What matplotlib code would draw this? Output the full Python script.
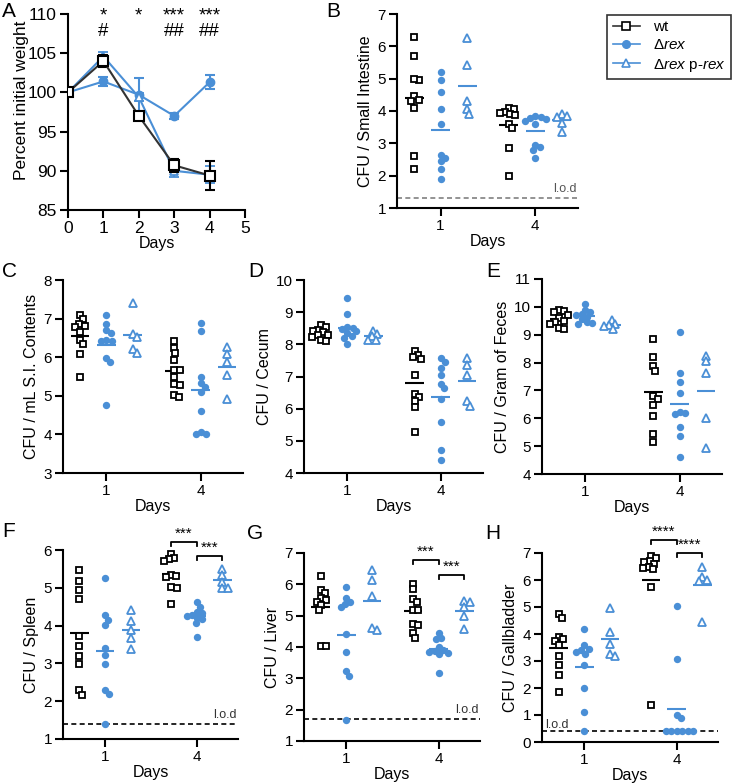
import numpy as np
import matplotlib
matplotlib.use("Agg")
import matplotlib.pyplot as plt
from matplotlib.lines import Line2D

plt.rcParams['font.family'] = ['Liberation Sans', 'DejaVu Sans']
plt.rcParams['mathtext.fontset'] = 'custom'
plt.rcParams['mathtext.rm'] = 'Liberation Sans'
plt.rcParams['mathtext.it'] = 'Liberation Sans:italic'

BLUE = '#4a8fd6'
W, H = 744, 784

# ---- Panel A: weight over time ----
days_a = [0, 1, 2, 3, 4]
wt_weight = [100, 104.0, 97.0, 90.7, 89.4]
wt_weight_err = [0, 0.8, 0.3, 0.8, 1.8]
rex_weight = [100, 101.4, 99.7, 97.0, 101.3]
rex_weight_err = [0, 0.6, 2.1, 0.4, 0.9]
prex_weight = [100, 104.6, 99.4, 90.0, 89.5]
prex_weight_err = [0, 0.6, 0.5, 0.8, 1.1]
star_days = [1, 2, 3, 4]
star_labels = ['*', '*', '***', '***']
hash_labels = ['#', '', '##', '##']

# ---- CFU panels: [day 1, day 4] per strain (log10 values) ----
day_labels = ['1', '4']

si_wt = [[6.3, 5.7, 4.95, 5.0, 4.45, 4.35, 4.3, 4.1, 2.6, 2.2],
         [4.1, 4.05, 3.98, 3.95, 3.9, 3.88, 3.6, 3.47, 2.87, 2.0]]
si_rex = [[5.2, 4.95, 4.6, 4.05, 3.6, 2.65, 2.45, 2.55, 2.2, 1.9],
          [3.85, 3.82, 3.78, 3.75, 3.7, 3.6, 2.95, 2.88, 2.8, 2.55]]
si_prex = [[6.25, 5.43, 4.3, 4.06, 3.9], [3.92, 3.85, 3.82, 3.62, 3.35]]

sic_wt = [[7.1, 6.98, 6.87, 6.82, 6.78, 6.65, 6.45, 6.33, 6.08, 5.5],
          [6.43, 6.25, 6.11, 5.92, 5.66, 5.66, 5.5, 5.3, 5.27, 5.03, 4.96]]
sic_rex = [[7.1, 6.85, 6.7, 6.63, 6.45, 6.43, 6.42, 5.99, 5.88, 4.76],
           [6.89, 6.69, 5.49, 5.32, 5.23, 5.1, 4.6, 4.06, 4.0, 4.0]]
sic_prex = [[7.4, 6.6, 6.52, 6.2, 6.1], [6.27, 6.07, 5.88, 5.55, 4.93]]

cec_wt = [[8.6, 8.55, 8.45, 8.42, 8.38, 8.3, 8.28, 8.22, 8.12, 8.1],
          [7.8, 7.66, 7.6, 7.53, 7.05, 6.47, 6.37, 6.25, 6.06, 5.27]]
cec_rex = [[9.45, 8.93, 8.55, 8.52, 8.48, 8.4, 8.35, 8.25, 8.2, 8.02],
           [7.56, 7.45, 7.25, 7.04, 6.76, 6.63, 6.29, 5.58, 4.72, 4.39]]
cec_prex = [[8.43, 8.31, 8.25, 8.15, 8.12], [7.58, 7.35, 7.04, 6.24, 6.09]]

fec_wt = [[9.9, 9.85, 9.8, 9.72, 9.6, 9.5, 9.45, 9.38, 9.25, 9.2],
          [8.85, 8.2, 7.88, 7.7, 6.8, 6.7, 6.48, 6.08, 5.44, 5.16]]
fec_rex = [[10.1, 9.9, 9.8, 9.75, 9.7, 9.65, 9.55, 9.45, 9.42, 9.4],
           [9.09, 7.62, 7.29, 6.9, 6.24, 6.18, 6.14, 5.7, 5.36, 4.62]]
fec_prex = [[9.54, 9.39, 9.36, 9.3, 9.2], [8.25, 8.04, 7.62, 6.02, 4.94]]

spl_wt = [[5.47, 5.18, 4.94, 4.7, 3.73, 3.46, 3.2, 2.99, 2.3, 2.17],
          [5.9, 5.78, 5.75, 5.7, 5.35, 5.3, 5.28, 5.02, 5.0, 4.57]]
spl_rex = [[5.25, 4.28, 4.15, 4.02, 3.4, 3.21, 2.99, 2.3, 2.19, 1.4],
           [4.62, 4.5, 4.37, 4.33, 4.28, 4.26, 4.2, 4.17, 4.06, 3.69]]
spl_prex = [[4.42, 4.11, 3.89, 3.67, 3.38], [5.49, 5.34, 5.16, 4.99, 4.99]]

liv_wt = [[6.26, 5.81, 5.72, 5.57, 5.51, 5.44, 5.33, 5.17, 4.02, 4.02],
          [6.02, 5.84, 5.54, 5.44, 5.17, 5.17, 4.72, 4.69, 4.45, 4.29]]
liv_rex = [[5.91, 5.56, 5.44, 5.38, 5.28, 4.4, 3.83, 3.23, 3.07, 1.66],
           [4.45, 4.3, 4.25, 4.0, 3.9, 3.88, 3.85, 3.82, 3.78, 3.18]]
liv_prex = [[6.45, 6.13, 5.62, 4.62, 4.53], [5.47, 5.44, 5.28, 4.98, 4.56]]

gb_wt = [[4.75, 4.6, 3.9, 3.8, 3.75, 3.6, 3.2, 2.85, 2.5, 1.86],
         [6.9, 6.8, 6.7, 6.65, 6.6, 6.5, 6.45, 6.4, 5.75, 1.37]]
gb_rex = [[4.2, 3.58, 3.45, 3.42, 3.35, 3.27, 2.85, 2.0, 1.1, 0.4],
          [5.03, 3.06, 1.0, 0.88, 0.4, 0.4, 0.4, 0.4, 0.4, 0.4]]
gb_prex = [[4.98, 4.06, 3.63, 3.27, 3.18], [6.5, 6.12, 6.0, 5.97, 4.43]]

si_lod, spl_lod, liv_lod, gb_lod = 1.3, 1.4, 1.7, 0.4


def px_axes(left, top, right, bottom):
    return fig.add_axes([left / W, 1 - bottom / H, (right - left) / W, (bottom - top) / H])


def style(ax, size=11):
    for s in ['top', 'right']:
        ax.spines[s].set_visible(False)
    for s in ['left', 'bottom']:
        ax.spines[s].set_linewidth(1.5)
    ax.tick_params(width=1.5, length=6, labelsize=size, pad=2)


def swarm(ax, vals, d=5.5):
    # simple beeswarm: offsets (in data units) so that markers don't overlap too much
    pos = ax.get_position()
    x0, x1 = ax.get_xlim()
    y0, y1 = ax.get_ylim()
    sx = pos.width * W / (x1 - x0)
    sy = pos.height * H / (y1 - y0)
    ys = np.asarray(vals, dtype=float) * sy
    offs = np.zeros(len(ys))
    placed = []
    for i in np.argsort(-ys, kind='stable'):
        cands = [0.0]
        for xp, yp in placed:
            dy = abs(ys[i] - yp)
            if dy < d:
                dx = np.sqrt(d * d - dy * dy)
                cands += [xp + dx, xp - dx]
        cands.sort(key=lambda c: (round(abs(c), 3), -c))
        for c in cands:
            if all((c - xp) ** 2 + (ys[i] - yp) ** 2 >= d * d - 1e-6 for xp, yp in placed):
                break
        offs[i] = c
        placed.append((c, ys[i]))
    return offs / sx


def bracket(ax, x1, x2, y, text):
    pos = ax.get_position()
    y0, y1 = ax.get_ylim()
    h = 4 * (y1 - y0) / (pos.height * H)
    ax.plot([x1, x1, x2, x2], [y - h, y, y, y - h], color='black', lw=1.3, clip_on=False)
    ax.text((x1 + x2) / 2, y + h * 0.3, text, ha='center', va='bottom', fontsize=11, clip_on=False)


fig = plt.figure(figsize=(W / 100, H / 100), dpi=100)

# ---------------- Panel A ----------------
axA = px_axes(68, 14, 245, 210)
axA.set_xlim(0, 5)
axA.set_ylim(85, 110)
style(axA, 12.5)
axA.set_xticks(range(6))
axA.set_yticks(range(85, 111, 5))
axA.errorbar(days_a, rex_weight, yerr=rex_weight_err, color=BLUE, lw=1.5, marker='o', ms=6,
             capsize=3.5, elinewidth=1.5, capthick=1.5, zorder=2)
axA.errorbar(days_a, prex_weight, yerr=prex_weight_err, color=BLUE, lw=1.5, marker='^', ms=6,
             mfc='white', mew=1.3, capsize=3.5, elinewidth=1.5, capthick=1.5, zorder=2)
axA.errorbar(days_a, wt_weight, yerr=wt_weight_err, color='#333333', ecolor='black', lw=1.5,
             marker='s', ms=7, mfc='white', mec='black', mew=1.5, capsize=3.5, elinewidth=1.5,
             capthick=1.5, zorder=3)
for d, s, hs in zip(star_days, star_labels, hash_labels):
    txt = s + '\n' + hs if hs else s
    axA.text(d, 110.8, txt, ha='center', va='top', fontsize=13.5, linespacing=0.85,
             clip_on=False)
axA.set_ylabel('Percent initial weight', fontsize=12.5)
axA.yaxis.set_label_coords(-0.22, 0.56)
axA.set_xlabel('Days', fontsize=11.5, labelpad=0)

# legend
handles = [
    Line2D([], [], color='#333333', lw=1.2, marker='s', ms=6, mfc='white', mec='black', mew=1.2),
    Line2D([], [], color=BLUE, lw=1.2, marker='o', ms=5.5),
    Line2D([], [], color=BLUE, lw=1.2, marker='^', ms=5.5, mfc='white', mew=1.2),
]
labels = ['wt', r'Δ$\it{rex}$', r'Δ$\it{rex}$ p-$\it{rex}$']
leg = fig.legend(handles, labels, loc='upper right', bbox_to_anchor=(739 / W, 1 - 7 / H),
                 fontsize=11, frameon=True, fancybox=False, edgecolor='black',
                 handlelength=1.8, borderpad=0.35, labelspacing=0.28, handletextpad=0.85)
leg.get_frame().set_linewidth(1.2)

# ---------------- CFU panels ----------------
offsets = [-0.28, 0.0, 0.28]
styles = [dict(marker='s', ms=5, mfc='white', mec='black', mew=1.3, color='black'),
          dict(marker='o', ms=5.3, mfc=BLUE, mec=BLUE, mew=0, color=BLUE),
          dict(marker='^', ms=5.5, mfc='white', mec=BLUE, mew=1.3, color=BLUE)]

panels = [
    # letter, (l, t, r, b), ylim, yticks, ylabel, data, lod, lod color, lod text side, brackets
    ('B', (397, 14, 578, 208), (1, 7), range(1, 8), 'CFU / Small Intestine',
     (si_wt, si_rex, si_prex), si_lod, '#808080', 'right', None),
    ('C', (63, 280, 243, 473), (3, 8), range(3, 9), 'CFU / mL S.I. Contents',
     (sic_wt, sic_rex, sic_prex), None, None, None, None),
    ('D', (304, 280, 483, 473), (4, 10), range(4, 11), 'CFU / Cecum',
     (cec_wt, cec_rex, cec_prex), None, None, None, None),
    ('E', (542, 279, 722, 474), (4, 11), range(4, 12), 'CFU / Gram of Feces',
     (fec_wt, fec_rex, fec_prex), None, None, None, None),
    ('F', (63, 550, 238, 739), (1, 6), range(1, 7), 'CFU / Spleen',
     (spl_wt, spl_rex, spl_prex), spl_lod, 'black', 'right', [('***', 6.22), ('***', 5.84)]),
    ('G', (304, 553, 480, 741), (1, 7), range(1, 8), 'CFU / Liver',
     (liv_wt, liv_rex, liv_prex), liv_lod, 'black', 'right', [('***', 6.77), ('***', 6.29)]),
    ('H', (542, 553, 718, 742), (0, 7), range(0, 8), 'CFU / Gallbladder',
     (gb_wt, gb_rex, gb_prex), gb_lod, 'black', 'left', [('****', 7.49), ('****', 7.0)]),
]

letter_pos = {'A': (2, 2), 'B': (326, 2), 'C': (2, 262), 'D': (248, 262), 'E': (486, 262),
              'F': (2, 522), 'G': (247, 524), 'H': (485, 524)}

for letter, rect, ylim, yticks, ylabel, data, lod, lodc, lodside, brackets in panels:
    ax = px_axes(*rect)
    ax.set_xlim(-0.46, 1.45)
    ax.set_ylim(*ylim)
    style(ax, 11)
    ax.set_yticks(list(yticks))
    ax.set_xticks([0, 1])
    ax.set_xticklabels(day_labels)
    ax.set_ylabel(ylabel, fontsize=11.5, labelpad=3)
    ax.set_xlabel('Days', fontsize=11.5, labelpad=0.5)
    for k, (series, st) in enumerate(zip(data, styles)):
        for di, vals in enumerate(series):
            c = di + offsets[k]
            xo = swarm(ax, vals)
            ax.plot(c + xo, vals, ls='none', clip_on=False, zorder=3,
                    **{kk: vv for kk, vv in st.items() if kk != 'color'})
            m = np.mean(vals)
            ax.plot([c - 0.1, c + 0.1], [m, m], color=st['color'], lw=1.5, zorder=2,
                    solid_capstyle='butt')
    if lod is not None:
        ax.axhline(lod, color=lodc, lw=1.2, ls=(0, (3, 2)), zorder=1)
        if lodside == 'right':
            ax.text(1.44, lod + 0.05 * (ylim[1] - ylim[0]) * 0.35, 'l.o.d', ha='right', va='bottom',
                    fontsize=9, color='#333333' if lodc == 'black' else '#555555')
        else:
            ax.text(-0.43, lod + 0.02, 'l.o.d', ha='left', va='bottom', fontsize=9, color='#333333')
    if brackets:
        bracket(ax, 1 + offsets[0], 1 + offsets[1], brackets[0][1], brackets[0][0])
        bracket(ax, 1 + offsets[1], 1 + offsets[2], brackets[1][1], brackets[1][0])

for letter, (x, y) in letter_pos.items():
    fig.text(x / W, 1 - y / H, letter, fontsize=15, ha='left', va='top')

fig.savefig('out.png', dpi=100)
